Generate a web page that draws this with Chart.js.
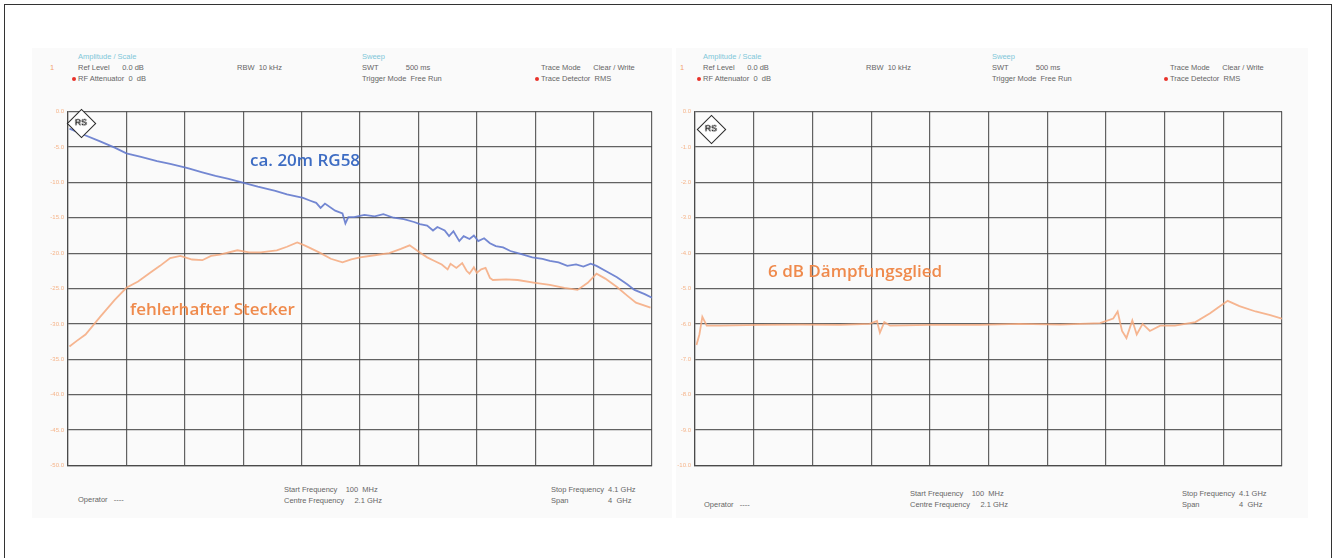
<!DOCTYPE html>
<html>
<head>
<meta charset="utf-8">
<script src="https://cdn.jsdelivr.net/npm/chart.js@4"></script>
<style>
  body { margin: 0; background: #fff; }
  #page { position: relative; width: 1336px; height: 558px; overflow: hidden; font-family: "Liberation Sans", Arial, sans-serif; }
  .frame { position: absolute; left: 4px; top: 4px; width: 1326px; height: 600px; border: 1px solid #333; }
  .panel { position: absolute; top: 48px; height: 470px; background: #fafafa; }
  .t { position: absolute; font-size: 7.5px; color: #666; white-space: nowrap; line-height: 10px; }
  .c { color: #7fc7d9; }
  .o { color: #f2a36e; }
  .dot { position: absolute; width: 4px; height: 4px; border-radius: 2px; background: #e8322a; }
  .note { position: absolute; font-family: "Open Sans", sans-serif; font-size: 17px; font-weight: 600; white-space: nowrap; }
  .logo { position: absolute; width: 19px; height: 19px; border: 1.5px solid #222; background: #fff; transform: rotate(45deg); }
  .logo span { position: absolute; left: 2px; top: 4px; font-size: 9px; font-weight: bold; transform: rotate(-45deg); color: #222; }
  canvas { position: absolute; }
</style>
</head>
<body>
<div id="page">
  <div class="frame"></div>
  <div class="panel" style="left:32px;width:640px"></div>
  <div class="panel" style="left:676px;width:632px"></div>

  <canvas id="leftChart" style="left:42px;top:104px" width="616" height="369"></canvas>
  <canvas id="rightChart" style="left:669px;top:104px" width="619" height="369"></canvas>

  <!-- left header -->
  <div class="t c" style="left:78px;top:52px">Amplitude / Scale</div>
  <div class="t o" style="left:50px;top:63px">1</div>
  <div class="t" style="left:78px;top:63px">Ref Level&nbsp;&nbsp;&nbsp;&nbsp;&nbsp;&nbsp;0.0 dB</div>
  <div class="dot" style="left:72px;top:77px"></div>
  <div class="t" style="left:78px;top:74px">RF Attenuator&nbsp;&nbsp;0&nbsp;&nbsp;dB</div>
  <div class="t" style="left:237px;top:63px">RBW&nbsp;&nbsp;10 kHz</div>
  <div class="t c" style="left:362px;top:52px">Sweep</div>
  <div class="t" style="left:362px;top:63px">SWT&nbsp;&nbsp;&nbsp;&nbsp;&nbsp;&nbsp;&nbsp;&nbsp;&nbsp;&nbsp;&nbsp;&nbsp;&nbsp;500 ms</div>
  <div class="t" style="left:362px;top:74px">Trigger Mode&nbsp;&nbsp;Free Run</div>
  <div class="t" style="left:541px;top:63px">Trace Mode&nbsp;&nbsp;&nbsp;&nbsp;&nbsp;&nbsp;Clear / Write</div>
  <div class="dot" style="left:535px;top:77px"></div>
  <div class="t" style="left:541px;top:74px">Trace Detector&nbsp;&nbsp;RMS</div>
  <!-- left footer -->
  <div class="t" style="left:78px;top:495px">Operator&nbsp;&nbsp;&nbsp;----</div>
  <div class="t" style="left:284px;top:485px">Start Frequency&nbsp;&nbsp;&nbsp;&nbsp;100&nbsp;&nbsp;MHz</div>
  <div class="t" style="left:284px;top:496px">Centre Frequency&nbsp;&nbsp;&nbsp;&nbsp;&nbsp;2.1 GHz</div>
  <div class="t" style="left:551px;top:485px">Stop Frequency&nbsp;&nbsp;4.1 GHz</div>
  <div class="t" style="left:551px;top:496px">Span&nbsp;&nbsp;&nbsp;&nbsp;&nbsp;&nbsp;&nbsp;&nbsp;&nbsp;&nbsp;&nbsp;&nbsp;&nbsp;&nbsp;&nbsp;&nbsp;&nbsp;&nbsp;&nbsp;4&nbsp;&nbsp;GHz</div>

  <!-- right header -->
  <div class="t c" style="left:703px;top:52px">Amplitude / Scale</div>
  <div class="t o" style="left:680px;top:63px">1</div>
  <div class="t" style="left:703px;top:63px">Ref Level&nbsp;&nbsp;&nbsp;&nbsp;&nbsp;&nbsp;0.0 dB</div>
  <div class="dot" style="left:697px;top:77px"></div>
  <div class="t" style="left:703px;top:74px">RF Attenuator&nbsp;&nbsp;0&nbsp;&nbsp;dB</div>
  <div class="t" style="left:866px;top:63px">RBW&nbsp;&nbsp;10 kHz</div>
  <div class="t c" style="left:992px;top:52px">Sweep</div>
  <div class="t" style="left:992px;top:63px">SWT&nbsp;&nbsp;&nbsp;&nbsp;&nbsp;&nbsp;&nbsp;&nbsp;&nbsp;&nbsp;&nbsp;&nbsp;&nbsp;500 ms</div>
  <div class="t" style="left:992px;top:74px">Trigger Mode&nbsp;&nbsp;Free Run</div>
  <div class="t" style="left:1170px;top:63px">Trace Mode&nbsp;&nbsp;&nbsp;&nbsp;&nbsp;&nbsp;Clear / Write</div>
  <div class="dot" style="left:1164px;top:77px"></div>
  <div class="t" style="left:1170px;top:74px">Trace Detector&nbsp;&nbsp;RMS</div>
  <!-- right footer -->
  <div class="t" style="left:704px;top:500px">Operator&nbsp;&nbsp;&nbsp;----</div>
  <div class="t" style="left:910px;top:489px">Start Frequency&nbsp;&nbsp;&nbsp;&nbsp;100&nbsp;&nbsp;MHz</div>
  <div class="t" style="left:910px;top:500px">Centre Frequency&nbsp;&nbsp;&nbsp;&nbsp;&nbsp;2.1 GHz</div>
  <div class="t" style="left:1182px;top:489px">Stop Frequency&nbsp;&nbsp;4.1 GHz</div>
  <div class="t" style="left:1182px;top:500px">Span&nbsp;&nbsp;&nbsp;&nbsp;&nbsp;&nbsp;&nbsp;&nbsp;&nbsp;&nbsp;&nbsp;&nbsp;&nbsp;&nbsp;&nbsp;&nbsp;&nbsp;&nbsp;&nbsp;4&nbsp;&nbsp;GHz</div>

  <!-- logos and notes -->
  <div class="logo" style="left:71px;top:113px"><span>RS</span></div>
  <div class="logo" style="left:701px;top:119px"><span>RS</span></div>
  <div class="note" style="left:250px;top:148px;color:#3d6cc3">ca. 20m RG58</div>
  <div class="note" style="left:130px;top:297px;color:#ef8a4c">fehlerhafter Stecker</div>
  <div class="note" style="left:768px;top:259px;color:#ef8a4c">6 dB Dämpfungsglied</div>
</div>

<script>
// x axis: frequency in GHz (100 MHz .. 4.1 GHz, 10 divisions)
const FREQ_TICKS = [0.1, 0.5, 0.9, 1.3, 1.7, 2.1, 2.5, 2.9, 3.3, 3.7, 4.1];
const LEFT_LEVEL_TICKS = [0, -5, -10, -15, -20, -25, -30, -35, -40, -45, -50];
const RIGHT_LEVEL_TICKS = [0, -1, -2, -3, -4, -5, -6, -7, -8, -9, -10];

// left: ca. 20m RG58 (blue)
const cableFreq = [0.11, 0.20, 0.32, 0.42, 0.50, 0.60, 0.71, 0.80, 0.92, 1.02, 1.11, 1.20, 1.31, 1.40, 1.52, 1.60,
  1.71, 1.76, 1.80, 1.83, 1.86, 1.93, 1.98, 2.00, 2.02, 2.06, 2.13, 2.20, 2.26, 2.33, 2.40, 2.47, 2.51, 2.56,
  2.60, 2.63, 2.68, 2.71, 2.74, 2.78, 2.81, 2.85, 2.88, 2.91, 2.95, 2.99, 3.03, 3.08, 3.13, 3.20, 3.28, 3.35,
  3.40, 3.46, 3.52, 3.58, 3.63, 3.68, 3.72, 3.78, 3.86, 3.93, 3.98, 4.05, 4.10];
const cableLevel = [-2.4, -3.2, -4.2, -5.1, -5.9, -6.4, -7.0, -7.4, -8.0, -8.6, -9.1, -9.5, -10.1, -10.6, -11.2, -11.7,
  -12.2, -12.6, -12.9, -13.6, -13.0, -14.0, -14.4, -15.8, -14.9, -14.9, -14.6, -14.8, -14.5, -15.0, -15.2, -15.6, -15.9, -16.1,
  -16.8, -16.3, -16.8, -17.6, -16.9, -18.3, -17.6, -18.0, -17.5, -18.3, -17.9, -18.6, -19.0, -19.2, -19.7, -20.1, -20.6, -20.8,
  -21.1, -21.3, -21.8, -21.6, -21.9, -21.5, -21.8, -22.5, -23.4, -24.4, -25.2, -25.8, -26.3];

// left: fehlerhafter Stecker (orange)
const plugFreq = [0.11, 0.16, 0.22, 0.32, 0.42, 0.50, 0.58, 0.66, 0.73, 0.80, 0.87, 0.95, 1.02, 1.08, 1.14, 1.26, 1.34,
  1.42, 1.53, 1.60, 1.67, 1.72, 1.76, 1.83, 1.90, 1.98, 2.04, 2.10, 2.20, 2.30, 2.38, 2.44, 2.51, 2.56, 2.60, 2.66,
  2.70, 2.72, 2.76, 2.80, 2.83, 2.85, 2.88, 2.90, 2.93, 2.96, 2.99, 3.01, 3.10, 3.18, 3.30, 3.40, 3.50, 3.59, 3.66,
  3.72, 3.78, 3.86, 3.93, 3.99, 4.09];
const plugLevel = [-33.2, -32.4, -31.5, -29.0, -26.6, -24.9, -24.0, -22.8, -21.8, -20.7, -20.4, -20.9, -21.0, -20.4, -20.2, -19.6, -19.9,
  -19.9, -19.6, -19.1, -18.5, -18.9, -19.3, -20.0, -20.8, -21.3, -20.9, -20.6, -20.3, -20.0, -19.4, -18.9, -19.9, -20.6, -21.0, -21.6,
  -22.3, -21.5, -22.1, -21.4, -22.5, -22.9, -22.0, -22.8, -22.3, -22.1, -23.5, -23.8, -23.7, -23.8, -24.2, -24.5, -24.9, -25.2, -24.2,
  -22.9, -23.6, -24.8, -26.0, -27.0, -27.7];

// right: 6 dB Dämpfungsglied (orange)
const attFreq = [0.11, 0.13, 0.15, 0.18, 0.27, 0.54, 0.82, 1.09, 1.29, 1.34, 1.36, 1.39, 1.43, 1.70, 2.04, 2.31, 2.59,
  2.86, 2.95, 2.98, 3.01, 3.04, 3.08, 3.11, 3.15, 3.20, 3.27, 3.37, 3.51, 3.61, 3.66, 3.73, 3.81, 3.92, 4.02, 4.10];
const attLevel = [-6.6, -6.3, -5.8, -6.05, -6.05, -6.03, -6.02, -6.03, -6.0, -5.92, -6.25, -5.95, -6.05, -6.03, -6.03, -6.0, -6.02,
  -5.98, -5.85, -5.65, -6.2, -6.4, -5.9, -6.3, -6.0, -6.2, -6.05, -6.05, -5.95, -5.7, -5.55, -5.35, -5.5, -5.65, -5.75, -5.85];

function toPoints(xs, ys) {
    return xs.map((x, i) => ({ x: x, y: ys[i] }));
}

function traceSet(xs, ys, color) {
    return {
        data: toPoints(xs, ys),
        showLine: true,
        borderColor: color,
        borderWidth: 1.8,
        pointRadius: 0,
        tension: 0
    };
}

function makeChart(id, datasets, levelTicks) {
    const gridColor = 'rgba(70, 70, 70, 0.85)';
    return new Chart(document.getElementById(id), {
        type: 'scatter',
        data: { datasets: datasets },
        options: {
            responsive: false,
            animation: false,
            layout: { padding: { top: 6, right: 6, bottom: 6, left: 0 } },
            plugins: { legend: { display: false }, tooltip: { enabled: false } },
            scales: {
                x: {
                    type: 'linear',
                    min: FREQ_TICKS[0],
                    max: FREQ_TICKS[FREQ_TICKS.length - 1],
                    afterBuildTicks: s => { s.ticks = FREQ_TICKS.map(v => ({ value: v })); },
                    afterFit: s => { s.height = 0; },
                    ticks: { display: false },
                    grid: { color: gridColor, lineWidth: 1.2, drawTicks: false },
                    border: { display: true, color: gridColor, width: 1.2 }
                },
                y: {
                    type: 'linear',
                    min: levelTicks[levelTicks.length - 1],
                    max: levelTicks[0],
                    afterBuildTicks: s => { s.ticks = levelTicks.map(v => ({ value: v })); },
                    afterFit: s => { s.width = 26; },
                    ticks: {
                        color: '#f5b48a',
                        font: { size: 6, family: 'Liberation Sans' },
                        padding: 4,
                        callback: v => v.toFixed(1)
                    },
                    grid: { color: gridColor, lineWidth: 1.2, drawTicks: false },
                    border: { display: true, color: gridColor, width: 1.2 }
                }
            }
        }
    });
}

makeChart('leftChart', [
    traceSet(plugFreq, plugLevel, 'rgba(244, 168, 125, 0.85)'),
    traceSet(cableFreq, cableLevel, 'rgba(100, 122, 205, 0.9)')
], LEFT_LEVEL_TICKS);

makeChart('rightChart', [
    traceSet(attFreq, attLevel, 'rgba(244, 168, 125, 0.85)')
], RIGHT_LEVEL_TICKS);
</script>
</body>
</html>
